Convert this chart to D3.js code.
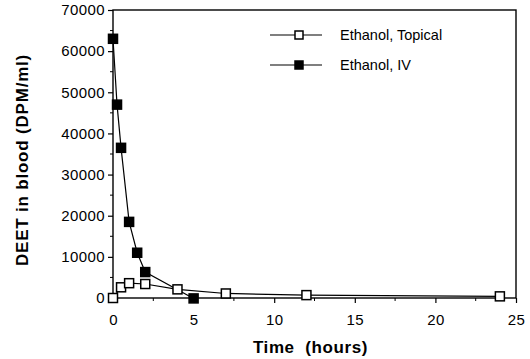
<!DOCTYPE html>
<html>
<head>
<meta charset="utf-8">
<script src="https://cdn.jsdelivr.net/npm/d3@7"></script>
<style>
  body { margin: 0; background: #fff; }
  text { font-family: "Liberation Sans", Arial, sans-serif; fill: #000; }
</style>
</head>
<body>
<script>
// data
const topicalTime = [0, 0.5, 1, 2, 4, 7, 12, 24];
const topicalDPM  = [0, 2600, 3600, 3400, 2100, 1100, 700, 400];
const ivTime = [0, 0.25, 0.5, 1, 1.5, 2, 5];
const ivDPM  = [63000, 47000, 36500, 18500, 11000, 6300, -100];
const xTicks = [0, 5, 10, 15, 20, 25];
const yTicks = [0, 10000, 20000, 30000, 40000, 50000, 60000, 70000];
const seriesNames = ["Ethanol, Topical", "Ethanol, IV"];

const W = 530, H = 359;
const margin = { top: 10, right: 14, bottom: 61, left: 113 };

const svg = d3.select("body").append("svg")
    .attr("width", W).attr("height", H);

const X = d3.scaleLinear().domain([0, 25]).range([margin.left, W - margin.right]);
const Y = d3.scaleLinear().domain([0, 70000]).range([H - margin.bottom, margin.top]);

// frame
svg.append("rect")
    .attr("x", X(0)).attr("y", Y(70000))
    .attr("width", X(25) - X(0)).attr("height", Y(0) - Y(70000))
    .attr("fill", "none").attr("stroke", "#000").attr("stroke-width", 1.4);

// minor ticks
svg.append("g").selectAll("line").data(d3.range(2.5, 25, 5)).join("line")
    .attr("x1", d => X(d)).attr("x2", d => X(d))
    .attr("y1", Y(0)).attr("y2", Y(0) + 3)
    .attr("stroke", "#000");
svg.append("g").selectAll("line").data(d3.range(5000, 70000, 10000)).join("line")
    .attr("x1", X(0) - 3).attr("x2", X(0))
    .attr("y1", d => Y(d)).attr("y2", d => Y(d))
    .attr("stroke", "#000");

// axes
const xAxis = svg.append("g")
    .attr("transform", `translate(0,${Y(0)})`)
    .call(d3.axisBottom(X).tickValues(xTicks).tickSize(5).tickPadding(11));
const yAxis = svg.append("g")
    .attr("transform", `translate(${X(0)},0)`)
    .call(d3.axisLeft(Y).tickValues(yTicks).tickSize(5).tickPadding(3).tickFormat(d3.format("d")));
[xAxis, yAxis].forEach(a => {
    a.select(".domain").remove();
    a.selectAll("text").attr("font-size", 15).attr("letter-spacing", 0.4)
        .attr("font-family", "Liberation Sans, Arial, sans-serif");
    a.selectAll("line").attr("stroke-width", 1.2);
});

// lines
const line = d3.line().x(d => X(d[0])).y(d => Y(d[1]));
const topical = topicalTime.map((t, i) => [t, topicalDPM[i]]);
const iv = ivTime.map((t, i) => [t, ivDPM[i]]);

svg.append("path").datum(topical).attr("d", line)
    .attr("fill", "none").attr("stroke", "#000").attr("stroke-width", 1.2);
svg.append("path").datum(iv).attr("d", line)
    .attr("fill", "none").attr("stroke", "#000").attr("stroke-width", 1.2);

const s = 9;
svg.append("g").selectAll("rect").data(topical).join("rect")
    .attr("x", d => X(d[0]) - s / 2).attr("y", d => Y(d[1]) - s / 2)
    .attr("width", s).attr("height", s)
    .attr("fill", "#fff").attr("stroke", "#000").attr("stroke-width", 1.5);
svg.append("g").selectAll("rect").data(iv).join("rect")
    .attr("x", d => X(d[0]) - s / 2).attr("y", d => Y(d[1]) - s / 2)
    .attr("width", s).attr("height", s)
    .attr("fill", "#000").attr("stroke", "#000").attr("stroke-width", 1.5);

// legend
const legend = svg.append("g");
seriesNames.forEach((name, i) => {
    const ly = 35 + i * 30;
    legend.append("line").attr("x1", 270).attr("x2", 322).attr("y1", ly).attr("y2", ly)
        .attr("stroke", "#000").attr("stroke-width", 1.2);
    legend.append("rect").attr("x", 299 - 4).attr("y", ly - 4).attr("width", 8).attr("height", 8)
        .attr("fill", i === 0 ? "#fff" : "#000").attr("stroke", "#000").attr("stroke-width", 1.5);
    legend.append("text").attr("x", 340).attr("y", ly + 5).attr("font-size", 14.5).text(name);
});

// axis titles
svg.append("text")
    .attr("x", (X(0) + X(25)) / 2 - 4).attr("y", 353)
    .attr("text-anchor", "middle").attr("font-size", 17).attr("font-weight", "bold")
    .attr("letter-spacing", 0.6)
    .attr("xml:space", "preserve").style("white-space", "pre")
    .text("Time  (hours)");
svg.append("text")
    .attr("transform", `translate(28,${(Y(0) + Y(70000)) / 2 + 6}) rotate(-90)`)
    .attr("text-anchor", "middle").attr("font-size", 17).attr("font-weight", "bold")
    .attr("letter-spacing", 0.8)
    .text("DEET in blood (DPM/ml)");
</script>
</body>
</html>
